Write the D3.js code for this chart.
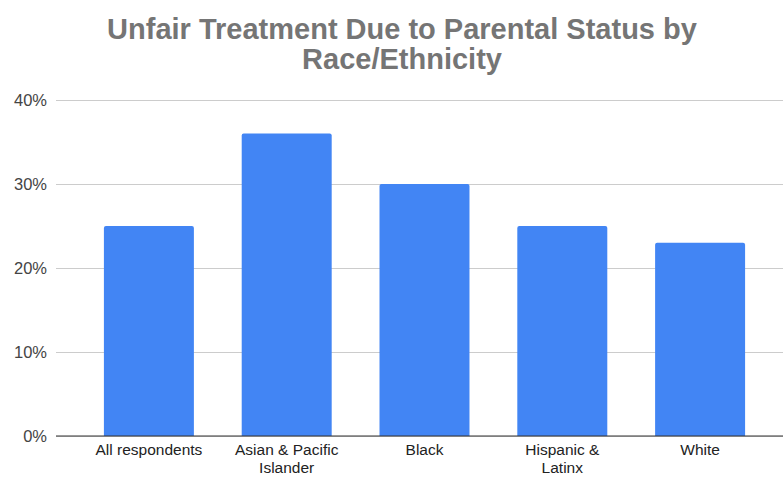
<!DOCTYPE html>
<html><head><meta charset="utf-8">
<script src="https://cdn.jsdelivr.net/npm/d3@7"></script>
<style>body{margin:0;background:#fff}svg{display:block}</style>
</head><body>
<script>
const categories = ["All respondents", "Asian & Pacific Islander", "Black", "Hispanic & Latinx", "White"];
const categoryLines = [["All respondents"], ["Asian & Pacific", "Islander"], ["Black"], ["Hispanic &", "Latinx"], ["White"]];
const values = [25, 36, 30, 25, 23];
const yTicks = [0, 10, 20, 30, 40];
const titleLines = ["Unfair Treatment Due to Parental Status by", "Race/Ethnicity"];

const W = 783, H = 477;
const svg = d3.select("body").append("svg").attr("width", W).attr("height", H);
const font = "'Liberation Sans', Arial, sans-serif";

const x = d3.scaleBand().domain(categories).range([80, 769]).paddingInner(0.347).paddingOuter(0.1735);
const y = d3.scaleLinear().domain([0, 40]).range([436, 100]);

// title
svg.append("g").selectAll("text").data(titleLines).join("text")
  .attr("x", 402).attr("y", (d, i) => 38.5 + i * 30)
  .attr("text-anchor", "middle").attr("font-family", font).attr("font-weight", "bold")
  .attr("font-size", 29).attr("fill", "#757575").text(d => d);

// grid
const yAxis = d3.axisLeft(y).tickValues(yTicks).tickFormat(d => d + "%").tickSize(-(W - 56)).tickPadding(9);
const gy = svg.append("g").attr("transform", "translate(56,0)").call(yAxis);
gy.select(".domain").remove();
gy.selectAll(".tick line").attr("stroke", "#cccccc").attr("stroke-width", 1);
gy.selectAll(".tick text").attr("font-family", font).attr("font-size", 16.5).attr("fill", "#444").attr("dy", "0.32em");

// bars
const r = 2;
svg.append("g").selectAll("path").data(values).join("path")
  .attr("fill", "#4285f4")
  .attr("d", (d, i) => {
    const x0 = x(categories[i]), w = x.bandwidth(), y0 = y(d), y1 = y(0);
    return `M${x0},${y1}V${y0 + r}Q${x0},${y0} ${x0 + r},${y0}H${x0 + w - r}Q${x0 + w},${y0} ${x0 + w},${y0 + r}V${y1}Z`;
  });

// baseline
svg.append("line").attr("x1", 56).attr("x2", W).attr("y1", y(0)).attr("y2", y(0))
  .attr("stroke", "#333").attr("stroke-width", 1.2);

// x labels
const xl = svg.append("g").selectAll("text").data(categories).join("text")
  .attr("text-anchor", "middle").attr("font-family", font).attr("font-size", 15.5).attr("fill", "#222")
  .attr("x", d => x(d) + x.bandwidth() / 2).attr("y", 455);
xl.selectAll("tspan").data((d, i) => categoryLines[i]).join("tspan")
  .attr("x", function() { return d3.select(this.parentNode).attr("x"); })
  .attr("dy", (d, j) => j === 0 ? 0 : 18).text(d => d);
</script>
</body></html>
